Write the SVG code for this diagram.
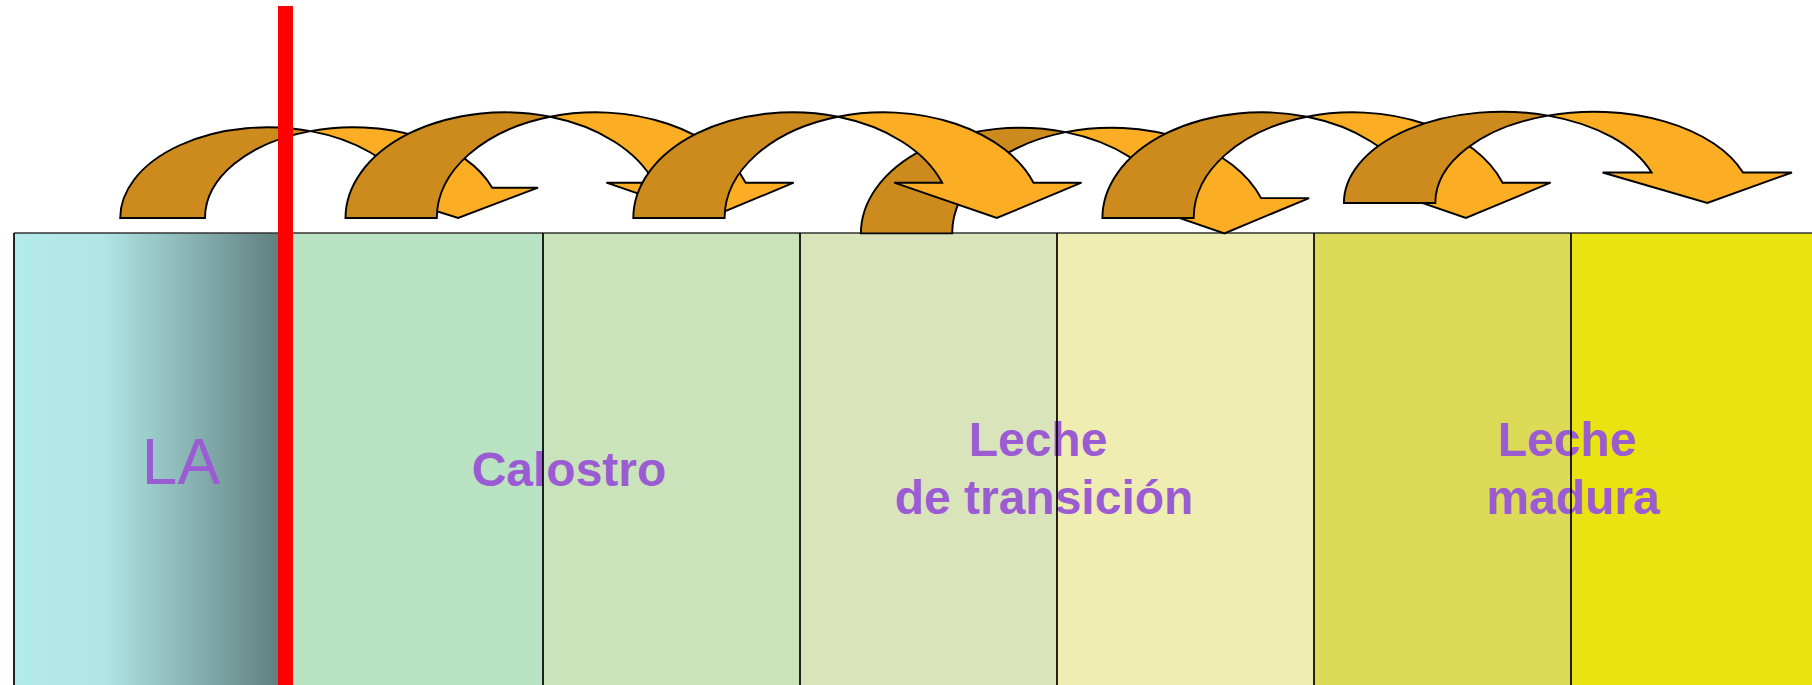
<svg xmlns="http://www.w3.org/2000/svg" width="1812" height="685" viewBox="0 0 1812 685">
<defs>
<linearGradient id="gLA" x1="0" y1="0" x2="1" y2="0">
<stop offset="0" stop-color="#b3eaea"/>
<stop offset="0.33" stop-color="#b0e6e6"/>
<stop offset="1" stop-color="#5e7c7c"/>
</linearGradient>
<style>
.dark{fill:#cc8b1c;stroke:#000;stroke-width:1.9;stroke-linejoin:miter}
.light{fill:#fbad24;stroke:#000;stroke-width:1.9;stroke-linejoin:miter}
.lbl{font-family:"Liberation Sans",Arial,sans-serif;fill:#9b5bd3;text-anchor:middle}
.b{font-weight:bold;font-size:48px}
.div{stroke:#000;stroke-width:1.7;fill:none}
</style>
</defs>
<rect width="1812" height="685" fill="#fff"/>
<g id="boxes">
<rect id="box-la" x="14" y="233" width="271" height="460" fill="url(#gLA)"/>
<rect id="box-c1" x="285" y="233" width="258" height="460" fill="#bae3c3"/>
<rect id="box-c2" x="543" y="233" width="257" height="460" fill="#cbe3ba"/>
<rect id="box-t1" x="800" y="233" width="257" height="460" fill="#dae4bb"/>
<rect id="box-t2" x="1057" y="233" width="257" height="460" fill="#efedb1"/>
<rect id="box-m1" x="1314" y="233" width="257" height="460" fill="#dcda56"/>
<rect id="box-m2" x="1571" y="233" width="250" height="460" fill="#e9e312"/>
</g>
<g id="labels">
<text id="t-la" class="lbl" x="181" y="484" font-size="64">LA</text>
<text id="t-calostro" class="lbl b" x="569" y="486">Calostro</text>
<text class="lbl b" x="1038" y="456">Leche</text>
<text class="lbl b" x="1044" y="514">de transición</text>
<text class="lbl b" x="1567" y="456">Leche</text>
<text class="lbl b" x="1573" y="514">madura</text>
</g>
<g id="box-lines" class="div">
<path d="M14 233H1812" stroke="#333"/>
<path d="M14 233V690M543 233V690M800 233V690M1057 233V690M1314 233V690M1571 233V690"/>
</g>
<g id="connectors">
<g id="arrow1">
<path class="dark" d="M120.2 218A147.85 90.7 0 0 1 310.45 131.11A147.85 90.7 0 0 0 205 218Z"/>
<path class="light" d="M310.45 131.11A147.85 90.7 0 0 1 492.21 187.7L538.1 187.7L458.1 218L361.5 187.7L407.41 187.7A147.85 90.7 0 0 0 310.45 131.11Z"/>
</g>
<g id="arrow2">
<path class="dark" d="M345.5 218A159 105.7 0 0 1 550.15 116.75A159 105.7 0 0 0 436.8 218Z"/>
<path class="light" d="M550.15 116.75A159 105.7 0 0 1 745.67 182.7L793.7 182.7L709 218L606.4 182.7L654.37 182.7A159 105.7 0 0 0 550.15 116.75Z"/>
</g>
<g id="arrow4">
<path class="dark" d="M860.9 233.4A159 105.7 0 0 1 1065.55 132.15A159 105.7 0 0 0 952.2 233.4Z"/>
<path class="light" d="M1065.55 132.15A159 105.7 0 0 1 1261.07 198.1L1309.1 198.1L1224.4 233.4L1121.8 198.1L1169.77 198.1A159 105.7 0 0 0 1065.55 132.15Z"/>
</g>
<g id="arrow3">
<path class="dark" d="M633.3 218A159 105.7 0 0 1 837.95 116.75A159 105.7 0 0 0 724.6 218Z"/>
<path class="light" d="M837.95 116.75A159 105.7 0 0 1 1033.47 182.7L1081.5 182.7L996.8 218L894.2 182.7L942.17 182.7A159 105.7 0 0 0 837.95 116.75Z"/>
</g>
<g id="arrow5">
<path class="dark" d="M1102.4 218A159 105.7 0 0 1 1307.05 116.75A159 105.7 0 0 0 1193.7 218Z"/>
<path class="light" d="M1307.05 116.75A159 105.7 0 0 1 1502.57 182.7L1550.6 182.7L1465.9 218L1363.3 182.7L1411.27 182.7A159 105.7 0 0 0 1307.05 116.75Z"/>
</g>
<g id="arrow6">
<path class="dark" d="M1343.9 203A158.4 91.3 0 0 1 1548 115.58A158.4 91.3 0 0 0 1435.3 203Z"/>
<path class="light" d="M1548 115.58A158.4 91.3 0 0 1 1743 172.5L1792 172.5L1707.3 203L1602.6 172.5L1651.6 172.5A158.4 91.3 0 0 0 1548 115.58Z"/>
</g>
</g>
<g id="red-line">
<rect x="278" y="6" width="15" height="680" fill="#ff0000"/>
</g>
</svg>
